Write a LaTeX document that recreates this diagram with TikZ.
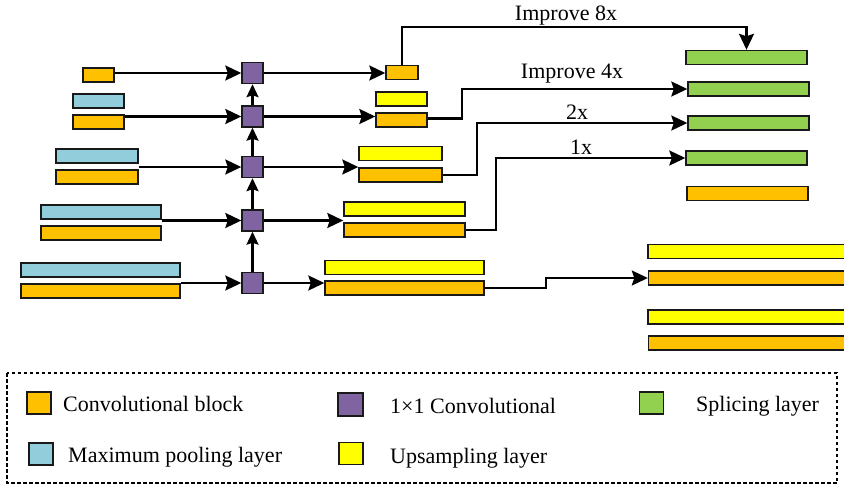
\documentclass[tikz,border=0pt]{standalone}
\usepackage{fontspec}
\setmainfont{Liberation Serif}
\usetikzlibrary{arrows.meta,calc}
\definecolor{cOrange}{HTML}{FFC000}
\definecolor{cBlue}{HTML}{92CDDC}
\definecolor{cPurple}{HTML}{8064A2}
\definecolor{cYellow}{HTML}{FFFF00}
\definecolor{cGreen}{HTML}{92D050}
\tikzset{
  layerbox/.style={draw=black!90, line width=1.4pt, inner sep=0pt, minimum height=14pt},
  ob/.style={layerbox, fill=cOrange},
  bb/.style={layerbox, fill=cBlue},
  yb/.style={layerbox, fill=cYellow},
  gb/.style={layerbox, fill=cGreen},
  pb/.style={layerbox, fill=cPurple, minimum width=21pt, minimum height=21pt},
  arr/.style={line width=2.2pt, -{Stealth[length=16pt,width=15pt,inset=2.5pt]}},
  varr/.style={line width=2.2pt, -{Stealth[length=13pt,width=12pt,inset=2pt]}},
  lbl/.style={inner sep=0pt, anchor=base, font=\fontsize{22}{26}\selectfont},
  ltxt/.style={inner sep=0pt, anchor=base west, font=\fontsize{22}{26}\selectfont},
  legsq/.style={draw=black!90, line width=1.4pt, inner sep=0pt, minimum width=24pt, minimum height=22pt}
}
\begin{document}
\begin{tikzpicture}[x=1pt,y=-1pt]
\useasboundingbox (0,0) rectangle (844,488);
\clip (0,0) rectangle (844,488);
% left stack
\node[ob, minimum width=31pt] (o1) at (98.5,75) {};
\node[bb, minimum width=51pt] (b2) at (98.5,101) {};
\node[ob, minimum width=51pt] (o2) at (98.5,122) {};
\node[bb, minimum width=82pt] (b3) at (97,156) {};
\node[ob, minimum width=82pt] (o3) at (97,177) {};
\node[bb, minimum width=120pt] (b4) at (101,212) {};
\node[ob, minimum width=120pt] (o4) at (101,233) {};
\node[bb, minimum width=159pt] (b5) at (100.5,270) {};
\node[ob, minimum width=159pt] (o5) at (100.5,291) {};
% purple 1x1
\node[pb] (p1) at (252.5,73) {};
\node[pb] (p2) at (252.5,116.5) {};
\node[pb] (p3) at (252.5,167) {};
\node[pb] (p4) at (252.5,220.5) {};
\node[pb] (p5) at (252.5,283) {};
% middle stack
\node[ob, minimum width=32pt] (r1) at (402,72.5) {};
\node[yb, minimum width=51pt] (y2) at (401.5,99) {};
\node[ob, minimum width=51pt] (r2) at (401.5,120) {};
\node[yb, minimum width=83pt] (y3) at (400.5,153.5) {};
\node[ob, minimum width=83pt] (r3) at (400.5,175) {};
\node[yb, minimum width=121pt] (y4) at (404.5,209) {};
\node[ob, minimum width=121pt] (r4) at (404.5,230) {};
\node[yb, minimum width=159pt] (y5) at (404.5,267.5) {};
\node[ob, minimum width=159pt] (r5) at (404.5,288) {};
% right stack
\node[gb, minimum width=121pt] (g1) at (746.5,57.5) {};
\node[gb, minimum width=121pt] (g2) at (748.5,89) {};
\node[gb, minimum width=121pt] (g3) at (748.5,123) {};
\node[gb, minimum width=121pt] (g4) at (746.5,158) {};
\node[ob, minimum width=121pt] (ro) at (747.5,193.5) {};
\node[yb, minimum width=202pt] (by1) at (749,251.5) {};
\node[ob, minimum width=202pt] (bo1) at (749.5,278) {};
\node[yb, minimum width=202pt] (by2) at (749,317) {};
\node[ob, minimum width=202pt] (bo2) at (749.5,343) {};
% left -> purple
\draw[arr] (o1.east |- p1.west) -- (p1.west);
\draw[arr] (o2.east |- p2.west) -- (p2.west);
\draw[arr] (o3.east |- p3.west) -- (p3.west);
\draw[arr] (o4.east |- p4.west) -- (p4.west);
\draw[arr] (o5.east |- p5.west) -- (p5.west);
% vertical
\draw[varr] (p5.north) -- (p4.south);
\draw[varr] (p4.north) -- (p3.south);
\draw[varr] (p3.north) -- (p2.south);
\draw[varr] (p2.north) -- (p1.south);
% purple -> middle
\draw[arr] (p1.east) -- (r1.west |- p1.east);
\draw[arr] (p2.east) -- (r2.west |- p2.east);
\draw[arr] (p3.east) -- (r3.west |- p3.east);
\draw[arr] (p4.east) -- (r4.west |- p4.east);
\draw[arr] (p5.east) -- (r5.west |- p5.east);
% middle -> right
\draw[arr] (r1.north) -- ++(0,-38) -| (g1.north);
\draw[arr] ($(r2.east)+(0,-1.5)$) -- (461.7,118.5) |- (g2.west);
\draw[arr] (r3.east) -- (476.7,175) |- (g3.west);
\draw[arr] (r4.east) -- (496,230) |- (g4.west);
\draw[arr] (r5.east) -- (545.7,288) |- (bo1.west);
% labels
\node[lbl] (t8) at (566,20) {Improve 8x};
\node[lbl] (t4) at (572,78) {Improve 4x};
\node[lbl] (t2) at (577,119) {2x};
\node[lbl] (t1) at (581,154) {1x};
% legend
\draw[line width=1.6pt, dash pattern=on 3.5pt off 2.5pt] (7,373) rectangle (837,483);
\node[legsq, fill=cOrange] (lo) at (39,403) {};
\node[ltxt] (lot) at (63,411) {Convolutional block};
\node[legsq, fill=cBlue] (lb) at (41,454) {};
\node[ltxt] (lbt) at (68,462.5) {Maximum pooling layer};
\node[legsq, fill=cPurple, minimum height=23pt, minimum width=25pt] (lp) at (350.5,404.5) {};
\node[ltxt] (lpt) at (390,413) {1×1 Convolutional};
\node[legsq, fill=cYellow] (ly) at (351,453.5) {};
\node[ltxt] (lyt) at (390,463) {Upsampling layer};
\node[legsq, fill=cGreen] (lg) at (651.5,403) {};
\node[ltxt] (lgt) at (696,411) {Splicing layer};
\end{tikzpicture}
\end{document}
